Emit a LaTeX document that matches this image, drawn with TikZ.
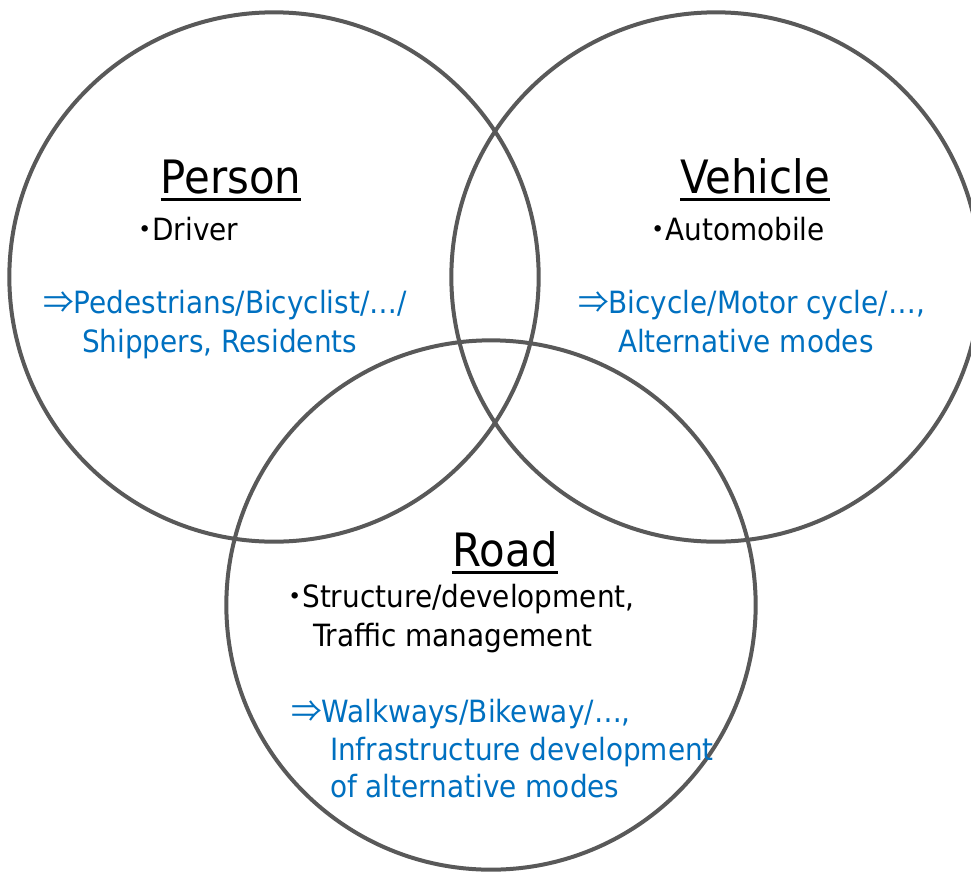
\documentclass[tikz,border=0pt]{standalone}
\usepackage{fontspec}
\setmainfont[FakeStretch=0.91]{DejaVu Sans}
\newfontfamily\cjk{Noto Sans CJK JP}
\usetikzlibrary{positioning}
\definecolor{ringgray}{HTML}{595959}
\definecolor{altblue}{HTML}{0070C0}
\newcommand{\bul}{{\cjk\bfseries ･}}
\newcommand{\arr}{{\cjk ⇒}}

\begin{document}
\begin{tikzpicture}[x=0.75pt,y=-0.75pt,
  every node/.style={inner sep=0pt,outer sep=0pt},
  set/.style={circle,draw=ringgray,line width=3pt,minimum size=397pt},
  title/.style={anchor=base,font=\fontsize{34.5}{40}\selectfont},
  item/.style={anchor=base west,font=\fontsize{23}{28}\selectfont},
  alt/.style={item,text=altblue},
  uline/.style={line width=2.25pt}]
  \useasboundingbox (0,0) rectangle (971,872);
  % the three sets
  \node[set] (person) at (274,277) {};
  \node[set] (vehicle) at (716,277) {};
  \node[set] (road) at (491,605) {};
  % Person
  \node[title] (personT) at (231,193) {Person};
  \node[item] (driver) at (137,240) {\bul Driver};
  \node[alt] (pedes) at (43,313) {\arr Pedestrians/Bicyclist/…/};
  \node[alt] (shipper) at (82,352) {Shippers, Residents};
  % Vehicle
  \node[title] (vehicleT) at (755,193) {Vehicle};
  \node[item] (auto) at (650,240) {\bul Automobile};
  \node[alt] (bicycle) at (578,313) {\arr Bicycle/Motor cycle/…,};
  \node[alt] (altmode) at (618,352) {Alternative modes};
  % Road
  \node[title] (roadT) at (505,566) {Road};
  \node[item] (struct) at (287,607) {\bul Structure/development,};
  \node[item] (traffic) at (313,646) {Traffic management};
  \node[alt] (walk) at (291,722) {\arr Walkways/Bikeway/…,};
  \node[alt] (infra) at (330,760) {Infrastructure development};
  \node[alt] (ofalt) at (330,797) {of alternative modes};
  % underlines
  \foreach \t in {personT,vehicleT,roadT}
    \draw[uline] ([yshift=-4.5pt]\t.base west) -- ([yshift=-4.5pt]\t.base east);
\end{tikzpicture}
\end{document}
